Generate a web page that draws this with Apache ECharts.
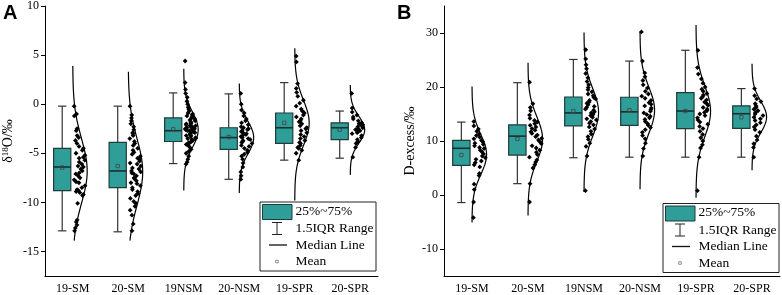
<!DOCTYPE html>
<html>
<head>
<meta charset="utf-8">
<script src="https://cdn.jsdelivr.net/npm/echarts@6.0.0/dist/echarts.min.js"></script>
<style>
  html, body { margin: 0; padding: 0; background: #fff; }
  #chart { width: 782px; height: 295px; }
</style>
</head>
<body>
<div id="chart"></div>
<script>
const categories = ['19-SM', '20-SM', '19NSM', '20-NSM', '19-SPR', '20-SPR'];

// panel A: δ18O (‰)
const aWhiskerLow = [-12.9, -13.0, -6.05, -7.65, -5.7, -5.5];
const aQ1 = [-8.8, -8.5, -3.8, -4.6, -4.0, -3.6];
const aMedian = [-6.4, -6.8, -2.7, -3.4, -2.4, -2.4];
const aQ3 = [-4.5, -3.9, -1.4, -2.4, -0.9, -1.9];
const aWhiskerHigh = [-0.2, -0.2, 1.15, 1.05, 2.2, -0.7];
const aMean = [-6.45, -6.3, -2.55, -3.35, -1.9, -2.6];
const aCurveMu = [-6.8, -6.9, -2.6, -3.4, -1.9, -2.6];
const aCurveSd = [3.3, 3.4, 1.8, 1.65, 2.3, 1.35];
const aCurveLow = [-13.9, -13.9, -8.8, -9.05, -9.8, -7.2];
const aCurveHigh = [3.9, 3.3, 3.6, 2.1, 5.7, 1.95];
const aPoints19SM = [-0.2, -1.0, -1.2, -2.5, -2.7, -3.2, -3.4, -3.7, -4.0, -4.3, -4.5, -4.7, -5.0, -5.2, -5.4, -5.5, -5.7, -5.9, -6.1, -6.3, -6.4, -6.6, -6.8, -7.0, -7.1, -7.3, -7.5, -7.7, -7.9, -8.0, -8.3, -8.5, -8.7, -8.8, -8.9, -9.0, -9.2, -9.3, -10.1, -11.8, -12.0, -12.3, -12.6, -12.9];
const aPoints20SM = [-0.2, -1.1, -1.4, -1.7, -2.0, -2.3, -2.6, -2.9, -3.0, -3.2, -3.5, -3.8, -4.0, -4.2, -4.5, -4.7, -4.9, -5.1, -5.3, -5.5, -5.6, -5.8, -6.0, -6.1, -6.3, -6.5, -6.6, -6.8, -6.9, -7.0, -7.1, -7.3, -7.5, -7.6, -7.8, -8.0, -8.1, -8.3, -8.5, -8.7, -8.9, -9.1, -9.3, -9.6, -9.9, -10.1, -10.4, -10.8, -11.3, -12.2, -12.9];
const aPoints19NSM = [4.4, 2.2, 1.5, 1.1, 0.7, 0.3, 0.0, -0.3, -0.5, -0.7, -0.9, -1.0, -1.1, -1.2, -1.3, -1.4, -1.5, -1.6, -1.7, -1.8, -1.9, -2.0, -2.0, -2.1, -2.2, -2.2, -2.3, -2.4, -2.4, -2.5, -2.5, -2.6, -2.6, -2.7, -2.7, -2.8, -2.8, -2.9, -2.9, -3.0, -3.0, -3.1, -3.2, -3.2, -3.3, -3.4, -3.5, -3.5, -3.6, -3.7, -3.8, -3.9, -4.0, -4.1, -4.2, -4.4, -4.6, -4.8, -5.0, -5.3, -5.6, -5.9, -6.1];
const aPoints20NSM = [1.1, 0.0, -0.6, -0.9, -1.2, -1.5, -1.7, -1.9, -2.1, -2.3, -2.4, -2.5, -2.6, -2.7, -2.8, -2.9, -3.0, -3.1, -3.2, -3.3, -3.4, -3.5, -3.6, -3.7, -3.8, -3.9, -4.0, -4.2, -4.3, -4.5, -4.7, -4.9, -5.1, -5.3, -5.6, -6.0, -6.4, -6.9, -7.3, -7.65];
const aPoints19SPR = [4.9, 4.3, 2.1, 1.6, 1.2, 0.8, 0.4, 0.1, -0.2, -0.5, -0.7, -0.9, -1.1, -1.3, -1.5, -1.7, -1.8, -2.0, -2.2, -2.4, -2.5, -2.7, -2.9, -3.1, -3.3, -3.5, -3.7, -3.9, -4.0, -4.2, -4.4, -4.5, -4.7, -5.0, -5.7];
const aPoints20SPR = [1.1, -0.4, -0.8, -1.1, -1.3, -1.5, -1.7, -1.9, -2.0, -2.1, -2.2, -2.3, -2.4, -2.5, -2.6, -2.7, -2.8, -2.9, -3.0, -3.2, -3.4, -3.6, -3.8, -4.0, -4.4, -5.4];

// panel B: D-excess (‰)
const bWhiskerLow = [-1.4, 2.1, 6.9, 7.0, 7.0, 7.0];
const bQ1 = [5.5, 7.4, 12.8, 12.9, 12.3, 12.35];
const bMedian = [8.65, 10.9, 15.2, 15.4, 15.55, 15.05];
const bQ3 = [10.1, 13.0, 18.15, 18.1, 18.95, 16.5];
const bWhiskerHigh = [13.5, 20.8, 25.1, 24.8, 26.8, 19.7];
const bMean = [7.4, 10.4, 15.55, 15.7, 15.55, 14.4];
const bCurveMu = [7.5, 10.35, 15.3, 15.7, 15.5, 14.45];
const bCurveSd = [3.7, 4.15, 4.35, 4.3, 4.7, 2.9];
const bCurveLow = [-5.1, -3.8, 0.55, 1.05, -0.5, 4.6];
const bCurveHigh = [20.1, 24.5, 30.1, 30.3, 31.5, 24.3];
const bPoints19SM = [13.6, 12.8, 12.2, 11.8, 11.3, 11.0, 10.7, 10.4, 10.1, 9.9, 9.6, 9.4, 9.1, 8.8, 8.6, 8.3, 8.0, 7.6, 7.2, 6.9, 6.6, 6.3, 6.0, 5.6, 5.2, 4.0, 3.6, 2.0, 1.0, -1.3, -4.2];
const bPoints20SM = [20.9, 16.9, 16.2, 15.6, 14.8, 14.2, 13.8, 13.5, 13.2, 12.9, 12.6, 12.3, 12.0, 11.7, 11.4, 11.1, 10.8, 10.5, 10.2, 9.9, 9.5, 9.1, 8.7, 8.3, 7.9, 7.5, 7.0, 6.5, 6.1, 5.6, 5.0, 2.1, -1.3];
const bPoints19NSM = [26.9, 25.2, 24.1, 23.4, 22.5, 21.7, 21.0, 20.4, 19.9, 19.5, 19.1, 18.7, 18.4, 18.1, 17.8, 17.5, 17.2, 17.0, 16.7, 16.4, 16.2, 15.9, 15.7, 15.4, 15.2, 14.9, 14.7, 14.4, 14.1, 13.9, 13.6, 13.3, 13.0, 12.6, 12.2, 11.8, 11.3, 10.8, 10.3, 9.6, 9.0, 7.2, 0.8];
const bPoints20NSM = [30.2, 24.8, 22.6, 21.9, 21.2, 20.4, 19.8, 19.2, 18.7, 18.3, 17.9, 17.5, 17.1, 16.8, 16.5, 16.1, 15.8, 15.5, 15.2, 14.9, 14.6, 14.3, 14.0, 13.6, 13.2, 12.9, 12.5, 12.1, 11.6, 11.0, 10.4, 9.6, 8.6, 7.2];
const bPoints19SPR = [26.8, 23.6, 22.4, 21.5, 20.7, 20.0, 19.6, 19.2, 18.8, 18.5, 18.2, 17.9, 17.6, 17.2, 16.9, 16.6, 16.2, 15.9, 15.6, 15.3, 15.0, 14.7, 14.3, 13.9, 13.5, 13.1, 12.7, 12.3, 11.8, 11.2, 10.6, 10.0, 9.3, 8.7, 7.0, 0.8];
const bPoints20SPR = [19.7, 18.4, 17.8, 17.3, 16.9, 16.5, 16.2, 15.9, 15.6, 15.3, 15.0, 14.7, 14.4, 14.1, 13.8, 13.4, 13.0, 12.6, 12.1, 11.6, 10.9, 10.2, 9.5, 8.8, 7.0];

const aTicks = [-15, -10, -5, 0, 5, 10];
const bTicks = [-10, 0, 10, 20, 30];

const TEAL = '#2f9e99';
const BOX_EDGE = '#1f3b3a';
const SERIF = 'Liberation Serif';
const CURVE_W = 0.26;   // peak width of the distribution curve, share of band

// fixed horizontal scatter of the dots (layout only)
function jitter(g, k) {
  const s = Math.sin(k * 12.9898 + g * 78.233) * 43758.5453;
  return s - Math.floor(s);
}

function density(c, g, v) {
  if (v < c.low[g] || v > c.high[g]) return 0;
  const d = v - c.mu[g];
  return Math.exp(-d * d / (2 * c.sd[g] * c.sd[g]));
}

function panelSeries(idx, st, c, pointGroups) {
  const boxData = categories.map((_, i) => [i, st.low[i], st.q1[i], st.med[i], st.q3[i], st.high[i], st.mean[i]]);
  const curveData = categories.map((_, i) => [i]);
  const pointData = [];
  pointGroups.forEach((vals, g) => vals.forEach((v, k) => {
    pointData.push([g, v, jitter(g + idx * 7, k)]);
  }));

  return [
    {
      type: 'custom', xAxisIndex: idx, yAxisIndex: idx, data: curveData, silent: true, z: 2,
      renderItem: (params, api) => {
        const i = api.value(0);
        const band = api.size([1, 0])[0];
        const x0 = api.coord([i, 0])[0];
        const pts = [];
        const n = 80;
        for (let k = 0; k <= n; k++) {
          const v = c.low[i] + (c.high[i] - c.low[i]) * k / n;
          pts.push([x0 + band * CURVE_W * density(c, i, v), api.coord([i, v])[1]]);
        }
        return { type: 'polyline', shape: { points: pts }, style: { stroke: '#000', fill: null, lineWidth: 1.2 } };
      }
    },
    {
      type: 'custom', xAxisIndex: idx, yAxisIndex: idx, data: pointData, silent: true, z: 3,
      renderItem: (params, api) => {
        const g = api.value(0), v = api.value(1), u = api.value(2);
        const band = api.size([1, 0])[0];
        const p = api.coord([g, v]);
        const x = p[0] + band * (0.025 + 0.22 * u * density(c, g, v));
        const y = p[1];
        const s = 2.4;
        return { type: 'polygon', shape: { points: [[x, y - s], [x + s, y], [x, y + s], [x - s, y]] }, style: { fill: '#000' } };
      }
    },
    {
      type: 'custom', xAxisIndex: idx, yAxisIndex: idx, data: boxData, silent: true, z: 4,
      renderItem: (params, api) => {
        const i = api.value(0);
        const band = api.size([1, 0])[0];
        const cx = api.coord([i, 0])[0] - band * 0.19;
        const hw = band * 0.155;
        const cap = band * 0.075;
        const y = k => api.coord([i, api.value(k)])[1];
        const yLow = y(1), yQ1 = y(2), yMed = y(3), yQ3 = y(4), yHigh = y(5), yMean = y(6);
        const ws = { stroke: '#333', lineWidth: 1.2 };
        return {
          type: 'group',
          children: [
            { type: 'line', shape: { x1: cx, y1: yHigh, x2: cx, y2: yQ3 }, style: ws },
            { type: 'line', shape: { x1: cx, y1: yQ1, x2: cx, y2: yLow }, style: ws },
            { type: 'line', shape: { x1: cx - cap, y1: yHigh, x2: cx + cap, y2: yHigh }, style: ws },
            { type: 'line', shape: { x1: cx - cap, y1: yLow, x2: cx + cap, y2: yLow }, style: ws },
            { type: 'rect', shape: { x: cx - hw, y: yQ3, width: hw * 2, height: yQ1 - yQ3 }, style: { fill: TEAL, stroke: BOX_EDGE, lineWidth: 1.2 } },
            { type: 'line', shape: { x1: cx - hw, y1: yMed, x2: cx + hw, y2: yMed }, style: { stroke: '#16302f', lineWidth: 1.6 } },
            { type: 'rect', shape: { x: cx - 1.7, y: yMean - 1.7, width: 3.4, height: 3.4 }, style: { fill: null, stroke: '#444', lineWidth: 0.8 } }
          ]
        };
      }
    }
  ];
}

function xAxisOf(gi) {
  return {
    gridIndex: gi, type: 'category', data: categories,
    axisLine: { onZero: false, lineStyle: { color: '#000', width: 1 } },
    axisTick: { alignWithLabel: true, length: 4, lineStyle: { color: '#000' } },
    axisLabel: { interval: 0, fontFamily: SERIF, fontSize: 12, color: '#000', margin: 7 }
  };
}

function yAxisOf(gi, min, max, ticks, name, nameGap, rich) {
  return {
    gridIndex: gi, type: 'value', min: min, max: max,
    splitLine: { show: false },
    axisLine: { show: true, onZero: false, lineStyle: { color: '#000', width: 1 } },
    axisTick: { show: true, length: 4, customValues: ticks, lineStyle: { color: '#000' } },
    axisLabel: { customValues: ticks, fontFamily: SERIF, fontSize: 12, color: '#000', margin: 6 },
    name: name, nameLocation: 'middle', nameGap: nameGap, nameRotate: 90,
    nameTextStyle: { fontFamily: SERIF, fontSize: 14, color: '#000', rich: rich }
  };
}

function legendAt(x, y) {
  const font = '13.5px "Liberation Serif"';
  const rows = [y + 9, y + 26.5, y + 43, y + 59.5];
  const tx = x + 35.5;
  const sx = x + 17;
  const txt = (t, ry) => ({ type: 'text', x: tx, y: ry, style: { text: t, font: font, fill: '#000', textVerticalAlign: 'middle' } });
  return {
    type: 'group', z: 100,
    children: [
      { type: 'rect', shape: { x: x, y: y, width: 116, height: 69 }, style: { fill: '#fff', stroke: '#222', lineWidth: 1 } },
      { type: 'rect', shape: { x: x + 2.5, y: y + 2.5, width: 29.5, height: 15 }, style: { fill: TEAL, stroke: BOX_EDGE, lineWidth: 1 } },
      txt('25%~75%', rows[0]),
      { type: 'line', shape: { x1: sx, y1: rows[1] - 6, x2: sx, y2: rows[1] + 6 }, style: { stroke: '#222', lineWidth: 1 } },
      { type: 'line', shape: { x1: sx - 5, y1: rows[1] - 6, x2: sx + 5, y2: rows[1] - 6 }, style: { stroke: '#222', lineWidth: 1 } },
      { type: 'line', shape: { x1: sx - 5, y1: rows[1] + 6, x2: sx + 5, y2: rows[1] + 6 }, style: { stroke: '#222', lineWidth: 1 } },
      txt('1.5IQR Range', rows[1]),
      { type: 'line', shape: { x1: sx - 8, y1: rows[2], x2: sx + 10, y2: rows[2] }, style: { stroke: '#111', lineWidth: 1.3 } },
      txt('Median Line', rows[2]),
      { type: 'rect', shape: { x: sx - 1.3, y: rows[3] - 1.3, width: 2.6, height: 2.6 }, style: { fill: null, stroke: '#666', lineWidth: 0.7 } },
      txt('Mean', rows[3])
    ]
  };
}

const chart = echarts.init(document.getElementById('chart'), null, { renderer: 'canvas' });

chart.setOption({
  animation: false,
  backgroundColor: '#fff',
  grid: [
    { left: 43, right: 404, top: 6, bottom: 19 },
    { left: 444, right: 2, top: 6, bottom: 19 }
  ],
  xAxis: [xAxisOf(0), xAxisOf(1)],
  yAxis: [
    yAxisOf(0, -17.5, 10, aTicks, '{a|δ}{s|18}{a|O/‰}', 30, {
      a: { fontFamily: SERIF, fontSize: 14, color: '#000' },
      s: { fontFamily: SERIF, fontSize: 9, color: '#000', verticalAlign: 'top' }
    }),
    yAxisOf(1, -15, 35, bTicks, 'D-excess/‰', 27)
  ],
  series: [
    ...panelSeries(0,
      { low: aWhiskerLow, q1: aQ1, med: aMedian, q3: aQ3, high: aWhiskerHigh, mean: aMean },
      { mu: aCurveMu, sd: aCurveSd, low: aCurveLow, high: aCurveHigh },
      [aPoints19SM, aPoints20SM, aPoints19NSM, aPoints20NSM, aPoints19SPR, aPoints20SPR]),
    ...panelSeries(1,
      { low: bWhiskerLow, q1: bQ1, med: bMedian, q3: bQ3, high: bWhiskerHigh, mean: bMean },
      { mu: bCurveMu, sd: bCurveSd, low: bCurveLow, high: bCurveHigh },
      [bPoints19SM, bPoints20SM, bPoints19NSM, bPoints20NSM, bPoints19SPR, bPoints20SPR])
  ],
  graphic: [
    { type: 'text', x: 3, y: 3, z: 100, style: { text: 'A', font: 'bold 20px "Liberation Sans"', fill: '#000' } },
    { type: 'text', x: 397, y: 3, z: 100, style: { text: 'B', font: 'bold 20px "Liberation Sans"', fill: '#000' } },
    legendAt(260, 202),
    legendAt(663, 203.5)
  ]
});
</script>
</body>
</html>
